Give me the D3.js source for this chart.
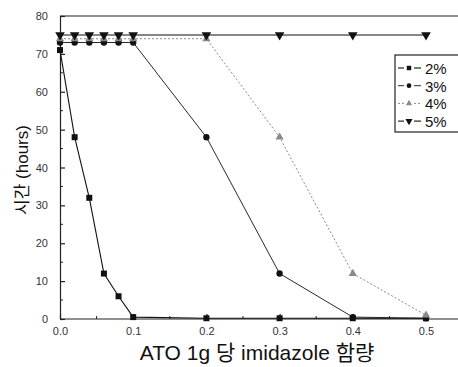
<!DOCTYPE html>
<html>
<head>
<meta charset="utf-8">
<script src="https://cdn.jsdelivr.net/npm/d3@7"></script>
<style>
  body { margin: 0; background: #fff; }
  svg { display: block; }
</style>
</head>
<body>
<div id="chart"></div>
<script>
// x values: ATO 1g 당 imidazole 함량
const xValues = [0, 0.02, 0.04, 0.06, 0.08, 0.1, 0.2, 0.3, 0.4, 0.5];
const s2 = [71, 48, 32, 12, 6, 0.5, 0.2, 0.2, 0.2, 0.2];
const s3 = [73, 73, 73, 73, 73, 73, 48, 12, 0.5, 0.2];
const s4 = [74, 74, 74, 74, 74, 74, 74, 48, 12, 1];
const s5 = [75, 75, 75, 75, 75, 75, 75, 75, 75, 75];
const seriesNames = ['2%', '3%', '4%', '5%'];
const xTicks = [0, 0.1, 0.2, 0.3, 0.4, 0.5];
const yTicks = [0, 10, 20, 30, 40, 50, 60, 70, 80];

const W = 458, H = 367;
const margin = { top: 16, left: 60, bottom: 48 };
const plotH = H - margin.top - margin.bottom;

const svg = d3.select('#chart').append('svg')
  .attr('width', W).attr('height', H);

const x = d3.scaleLinear().domain([0, 0.5]).range([margin.left, 426]);
const y = d3.scaleLinear().domain([0, 80]).range([margin.top + plotH, margin.top]);

// frame (top line, right side is cut off)
svg.append('line')
  .attr('x1', margin.left).attr('x2', W)
  .attr('y1', y(80)).attr('y2', y(80))
  .attr('stroke', '#222').attr('stroke-width', 1.2);

// axes, ticks inward
const xAxis = svg.append('g')
  .attr('transform', `translate(0,${y(0)})`)
  .call(d3.axisBottom(x).tickValues(xTicks).tickFormat(d3.format('.1f')).tickSizeInner(-5).tickSizeOuter(0).tickPadding(8));
xAxis.select('.domain').attr('d', `M${margin.left},0H${W}`);
xAxis.append('g').selectAll('line')
  .data([0.05, 0.15, 0.25, 0.35, 0.45, 0.55])
  .join('line')
  .attr('x1', d => x(d)).attr('x2', d => x(d))
  .attr('y1', 0).attr('y2', -3)
  .attr('stroke', '#222');

const yAxis = svg.append('g')
  .attr('transform', `translate(${margin.left},0)`)
  .call(d3.axisLeft(y).tickValues(yTicks).tickSizeInner(-5).tickSizeOuter(0).tickPadding(12));
yAxis.append('g').selectAll('line')
  .data([5, 15, 25, 35, 45, 55, 65, 75])
  .join('line')
  .attr('x1', 0).attr('x2', 3)
  .attr('y1', d => y(d)).attr('y2', d => y(d))
  .attr('stroke', '#222');

svg.selectAll('.domain, .tick line').attr('stroke', '#222').attr('stroke-width', 1.2);
svg.selectAll('.tick text')
  .attr('fill', '#333')
  .style('font-family', '"Liberation Sans", Arial, sans-serif')
  .style('font-size', '11px');

// axis titles
svg.append('text')
  .attr('x', 257).attr('y', 360)
  .attr('text-anchor', 'middle')
  .attr('fill', '#111')
  .style('font-family', '"Liberation Sans", "Noto Sans CJK KR", sans-serif')
  .style('font-size', '21px')
  .text('ATO 1g 당 imidazole 함량');

svg.append('text')
  .attr('transform', `translate(28,170) rotate(-90)`)
  .attr('text-anchor', 'middle')
  .attr('fill', '#111')
  .style('font-family', '"Liberation Sans", "Noto Sans CJK KR", sans-serif')
  .style('font-size', '17px')
  .text('시간 (hours)');

const series = [
  { name: seriesNames[0], values: s2, color: '#111', dash: null, width: 1.1, symbol: d3.symbolSquare, size: 36, rot: 0 },
  { name: seriesNames[1], values: s3, color: '#111', dash: null, width: 0.9, symbol: d3.symbolCircle, size: 32, rot: 0 },
  { name: seriesNames[2], values: s4, color: '#8a8a8a', dash: '2,2', width: 1, symbol: d3.symbolTriangle, size: 30, rot: 0 },
  { name: seriesNames[3], values: s5, color: '#111', dash: null, width: 1.1, symbol: d3.symbolTriangle, size: 40, rot: 180 },
];

const line = d3.line().x(d => x(d[0])).y(d => y(d[1]));

series.forEach(s => {
  const pts = xValues.map((xv, i) => [xv, s.values[i]]);
  svg.append('path')
    .datum(pts)
    .attr('fill', 'none')
    .attr('stroke', s.color)
    .attr('stroke-width', s.width)
    .attr('stroke-dasharray', s.dash)
    .attr('d', line);
});

series.forEach(s => {
  const pts = xValues.map((xv, i) => [xv, s.values[i]]);
  svg.append('g').selectAll('path')
    .data(pts)
    .join('path')
    .attr('transform', d => `translate(${x(d[0])},${y(d[1])}) rotate(${s.rot})`)
    .attr('d', d3.symbol().type(s.symbol).size(s.size))
    .attr('fill', s.color);
});

// legend
const lg = svg.append('g').attr('transform', 'translate(395,55)');
lg.append('rect')
  .attr('x', 0).attr('y', 0).attr('width', 80).attr('height', 77)
  .attr('fill', '#fff').attr('stroke', '#222').attr('stroke-width', 1.2);
series.forEach((s, i) => {
  const row = lg.append('g').attr('transform', `translate(0,${13 + i * 17.7})`);
  [[3, 9], [19, 26]].forEach(([a, b]) => {
    row.append('line')
      .attr('x1', a).attr('x2', b)
      .attr('stroke', s.color).attr('stroke-width', s.width)
      .attr('stroke-dasharray', s.dash);
  });
  row.append('path')
    .attr('transform', `translate(14,0) rotate(${s.rot})`)
    .attr('d', d3.symbol().type(s.symbol).size(s.size * 0.55))
    .attr('fill', s.color);
  row.append('text')
    .attr('x', 30).attr('y', 6)
    .attr('fill', '#111')
    .style('font-family', '"Liberation Sans", Arial, sans-serif')
    .style('font-size', '15px')
    .text(s.name);
});
</script>
</body>
</html>
